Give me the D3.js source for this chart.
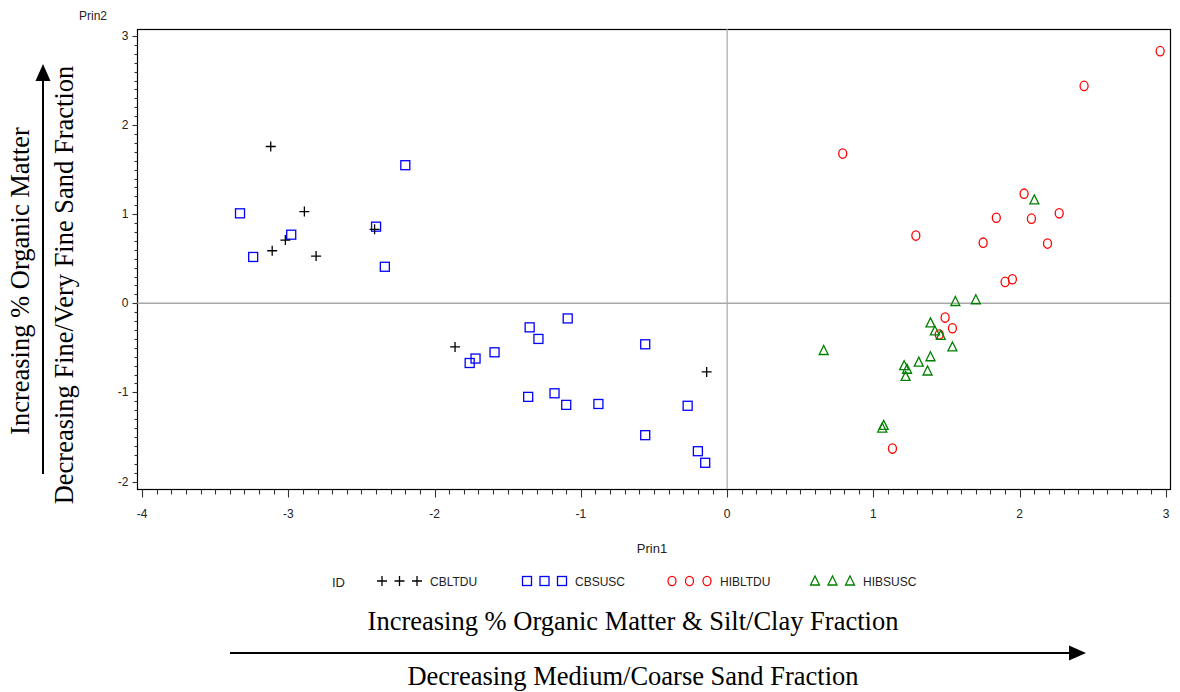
<!DOCTYPE html>
<html><head><meta charset="utf-8">
<script src="https://cdn.jsdelivr.net/npm/d3@7/dist/d3.min.js"></script>
<style>body{margin:0;background:#fff}svg{display:block}</style>
</head><body><svg id="c" width="1180" height="692"></svg>
<script>
// ---- data ----
const cbltdu = [[-3.12,1.76],[-2.89,1.03],[-3.02,0.71],[-3.11,0.59],[-2.81,0.53],[-2.41,0.83],[-1.86,-0.49],[-0.14,-0.77]];
const cbsusc = [[-3.33,1.01],[-2.20,1.55],[-2.98,0.77],[-3.24,0.52],[-2.40,0.86],[-2.34,0.41],[-1.09,-0.17],[-1.35,-0.27],[-1.29,-0.40],[-1.59,-0.55],[-1.72,-0.62],[-1.76,-0.67],[-0.56,-0.46],[-1.36,-1.05],[-1.18,-1.01],[-1.10,-1.14],[-0.88,-1.13],[-0.27,-1.15],[-0.56,-1.48],[-0.20,-1.66],[-0.15,-1.79]];
const hibltdu = [[0.79,1.68],[2.03,1.23],[1.84,0.96],[2.08,0.95],[2.27,1.01],[1.29,0.76],[1.75,0.68],[2.19,0.67],[1.90,0.24],[1.95,0.27],[1.49,-0.16],[1.54,-0.28],[1.45,-0.35],[1.13,-1.63],[2.96,2.83],[2.44,2.44]];
const hibsusc = [[2.10,1.16],[1.56,0.02],[1.70,0.04],[1.39,-0.22],[1.42,-0.31],[1.46,-0.36],[1.54,-0.49],[0.66,-0.53],[1.39,-0.60],[1.31,-0.66],[1.21,-0.70],[1.23,-0.74],[1.37,-0.76],[1.22,-0.82],[1.07,-1.37],[1.06,-1.40]];
const seriesNames = ["CBLTDU","CBSUSC","HIBLTDU","HIBSUSC"];
const xTicks = [-4,-3,-2,-1,0,1,2,3];
const yTicks = [-2,-1,0,1,2,3];

// ---- layout ----
const svg = d3.select("#c");
const fL = 137, fR = 1170, fT = 29, fB = 489;
const x = d3.scaleLinear().domain([-4,3]).range([142,1166]);
const y = d3.scaleLinear().domain([-2,3]).range([481.5,36]);
const colors = {CBLTDU:"#000000",CBSUSC:"#0000ff",HIBLTDU:"#ff0000",HIBSUSC:"#008000"};
const font = "Liberation Sans, Arial, sans-serif";
const serif = "Liberation Serif, Times New Roman, serif";
const bigSize = 26.5;

// frame
svg.append("rect").attr("x",fL+0.5).attr("y",fT+0.5).attr("width",fR-fL).attr("height",fB-fT)
  .attr("fill","none").attr("stroke","#000").attr("stroke-width",1.2);

// reference lines
svg.append("line").attr("x1",fL).attr("x2",fR).attr("y1",y(0)).attr("y2",y(0)).attr("stroke","#a8a8a8").attr("stroke-width",1.6);
svg.append("line").attr("y1",fT).attr("y2",fB).attr("x1",x(0)).attr("x2",x(0)).attr("stroke","#a8a8a8").attr("stroke-width",1.2);

// x axis
const xMinor = d3.range(-40,31).map(d=>d/10);
const xa = svg.append("g").attr("transform",`translate(0,${fB+0.5})`);
xa.selectAll("line.mn").data(xMinor).join("line").attr("class","mn")
  .attr("x1",d=>Math.round(x(d))+0.5).attr("x2",d=>Math.round(x(d))+0.5).attr("y1",0)
  .attr("y2",d=>Math.abs(d-Math.round(d))<1e-9?8:5).attr("stroke","#333").attr("stroke-width",1.1);
xa.selectAll("text").data(xTicks).join("text").attr("x",d=>x(d)).attr("y",28)
  .attr("text-anchor","middle").attr("font-family",font).attr("font-size",12).attr("fill","#222")
  .text(d=>d);
svg.append("text").attr("x",652).attr("y",553).attr("text-anchor","middle").attr("font-family",font)
  .attr("font-size",13).attr("fill","#222").text("Prin1");

// y axis
const yMinor = d3.range(-20,31).map(d=>d/10);
const ya = svg.append("g").attr("transform",`translate(${fL+0.5},0)`);
ya.selectAll("line").data(yMinor).join("line")
  .attr("y1",d=>Math.round(y(d))+0.5).attr("y2",d=>Math.round(y(d))+0.5).attr("x1",0)
  .attr("x2",d=>Math.abs(d-Math.round(d))<1e-9?-5:-3).attr("stroke","#333").attr("stroke-width",1.1);
ya.selectAll("text").data(yTicks).join("text").attr("x",-9).attr("y",d=>y(d)+4)
  .attr("text-anchor","end").attr("font-family",font).attr("font-size",12).attr("fill","#222").text(d=>d);
svg.append("text").attr("x",93).attr("y",20).attr("text-anchor","middle").attr("font-family",font)
  .attr("font-size",12).attr("fill","#222").text("Prin2");

// markers
function drawMarker(g, name, cx, cy){
  const c = colors[name];
  if(name==="CBLTDU"){
    g.append("path").attr("d",`M${cx-5},${cy}H${cx+5}M${cx},${cy-5}V${cy+5}`).attr("stroke",c).attr("stroke-width",1.3).attr("fill","none");
  } else if(name==="CBSUSC"){
    g.append("rect").attr("x",cx-4.5).attr("y",cy-4.5).attr("width",9).attr("height",9).attr("stroke",c).attr("stroke-width",1.3).attr("fill","none");
  } else if(name==="HIBLTDU"){
    g.append("ellipse").attr("cx",cx).attr("cy",cy).attr("rx",4).attr("ry",4.7).attr("stroke",c).attr("stroke-width",1.3).attr("fill","none");
  } else {
    g.append("path").attr("d",`M${cx},${cy-5}L${cx+4.5},${cy+4}L${cx-4.5},${cy+4}Z`).attr("stroke",c).attr("stroke-width",1.3).attr("fill","none");
  }
}
const pg = svg.append("g");
[[cbsusc,"CBSUSC"],[cbltdu,"CBLTDU"],[hibltdu,"HIBLTDU"],[hibsusc,"HIBSUSC"]].forEach(([arr,name])=>{
  arr.forEach(d=>drawMarker(pg,name,x(d[0]),y(d[1])));
});

// legend
const lg = svg.append("g");
lg.append("text").attr("x",332).attr("y",587).attr("font-family",font).attr("font-size",13).attr("fill","#222").text("ID");
const legX = {CBLTDU:382,CBSUSC:527,HIBLTDU:672,HIBSUSC:815};
seriesNames.forEach(n=>{
  for(let i=0;i<3;i++) drawMarker(lg,n,legX[n]+i*17.5,581);
  lg.append("text").attr("x",legX[n]+48).attr("y",586).attr("font-family",font).attr("font-size",12).attr("fill","#222").text(n);
});

// annotations
svg.append("text").attr("x",633).attr("y",630).attr("text-anchor","middle").attr("font-family",serif)
  .attr("font-size",bigSize).attr("fill","#000").text("Increasing % Organic Matter & Silt/Clay Fraction");
svg.append("text").attr("x",633).attr("y",685).attr("text-anchor","middle").attr("font-family",serif)
  .attr("font-size",bigSize).attr("fill","#000").text("Decreasing Medium/Coarse Sand Fraction");
svg.append("line").attr("x1",230).attr("x2",1072).attr("y1",653).attr("y2",653).attr("stroke","#000").attr("stroke-width",2);
svg.append("path").attr("d","M1086,653L1069,645.5L1069,660.5Z").attr("fill","#000");

svg.append("text").attr("transform","translate(29,281) rotate(-90)").attr("text-anchor","middle")
  .attr("font-family",serif).attr("font-size",bigSize).attr("fill","#000").text("Increasing % Organic Matter");
svg.append("text").attr("transform","translate(73,285) rotate(-90)").attr("text-anchor","middle")
  .attr("font-family",serif).attr("font-size",bigSize).attr("fill","#000").text("Decreasing Fine/Very Fine Sand Fraction");
svg.append("line").attr("x1",43).attr("x2",43).attr("y1",474).attr("y2",78).attr("stroke","#000").attr("stroke-width",2);
svg.append("path").attr("d","M43,64L35.5,81L50.5,81Z").attr("fill","#000");
</script></body></html>
